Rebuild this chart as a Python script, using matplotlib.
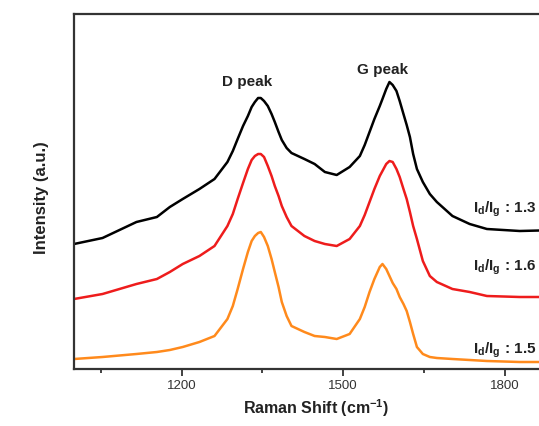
import matplotlib
matplotlib.use('Agg')
import matplotlib.pyplot as plt
from matplotlib.ticker import MultipleLocator

# Raman shift (cm^-1)
shift = [1000, 1053, 1116, 1154, 1178, 1202, 1233, 1261, 1285, 1295,
         1304, 1314, 1323, 1330, 1336, 1342, 1347, 1353, 1360, 1367,
         1373, 1380, 1386, 1395, 1404, 1428, 1447, 1466, 1488, 1512,
         1531, 1540, 1549, 1558, 1568, 1573, 1580, 1586, 1592, 1599,
         1605, 1612, 1618, 1624, 1630, 1637, 1648, 1661, 1674, 1703,
         1735, 1767, 1828, 1900]

# intensities (a.u.), offset curves
black = [125, 131, 147, 152, 162, 170, 180, 190, 207, 218,
         230, 243, 253, 262, 267, 271, 271, 268, 263, 255,
         247, 237, 229, 221, 216, 210, 205, 197, 194, 202,
         213, 224, 237, 250, 263, 270, 280, 287, 284, 278,
         268, 255, 244, 232, 215, 200, 187, 175, 167, 153,
         145, 140, 138, 139]
red = [70, 75, 85, 90, 97, 105, 113, 123, 143, 155,
       170, 186, 200, 209, 213, 215, 215, 212, 203, 193,
       183, 173, 163, 152, 143, 133, 128, 125, 123, 130,
       143, 154, 167, 180, 193, 198, 205, 208, 207, 200,
       192, 180, 170, 157, 143, 130, 108, 93, 87, 80,
       77, 73, 72, 72]
orange = [10, 12, 15, 17, 19, 22, 27, 33, 50, 63,
          80, 100, 117, 128, 133, 136, 137, 132, 123, 110,
          97, 82, 67, 53, 43, 37, 33, 32, 30, 35,
          50, 62, 77, 90, 102, 105, 100, 93, 86, 80,
          72, 65, 58, 47, 35, 22, 15, 12, 11, 10,
          9, 8, 7, 7]

ratios = ['1.3', '1.6', '1.5']
ratio_y = [161, 103, 20]

plt.rcParams['font.family'] = ['Liberation Sans', 'DejaVu Sans']
plt.rcParams['mathtext.fontset'] = 'custom'
plt.rcParams['mathtext.bf'] = 'Liberation Sans:bold'
plt.rcParams['mathtext.rm'] = 'Liberation Sans'

fig = plt.figure(figsize=(5.39, 4.27), dpi=100)
ax = fig.add_axes([74 / 539, 57 / 427, 484.5 / 539, 355 / 427])

ax.plot(shift, black, color='black', lw=1.8)
ax.plot(shift, red, color='#ee1c1c', lw=1.8)
ax.plot(shift, orange, color='#ff8a1c', lw=1.8)

ax.set_xlim(1000, 1900)
ax.set_ylim(0, 355)

ax.text(1321, 288, 'D peak', fontsize=11, fontweight='bold',
        ha='center', va='center', color='#222222')
ax.text(1573, 300, 'G peak', fontsize=11, fontweight='bold',
        ha='center', va='center', color='#222222')
for r, yy in zip(ratios, ratio_y):
    ax.text(1741, yy, r'I$_\mathbf{d}$/I$_\mathbf{g}$ : ' + r,
            fontsize=11, fontweight='bold', ha='left', va='center',
            color='#222222')

ax.xaxis.set_minor_locator(MultipleLocator(150))
ax.set_xticks([1200, 1500, 1800])
ax.tick_params(axis='x', which='major', direction='out', length=5,
               width=1.3, labelsize=9.5, colors='#333333', pad=2)
ax.tick_params(axis='x', which='minor', direction='out', length=3,
               width=1.3, colors='#333333')
ax.set_yticks([])

for s in ax.spines.values():
    s.set_linewidth(1.6)
    s.set_color('#333333')

ax.set_xlabel('Raman Shift (cm$^{\\mathbf{-1}}$)', fontsize=11.5,
              fontweight='bold', labelpad=4, color='#222222')
ax.set_ylabel('Intensity (a.u.)', fontsize=12, fontweight='bold',
              color='#222222')
ax.yaxis.set_label_coords(-0.052, 0.485)

fig.savefig('out.png', dpi=100)
